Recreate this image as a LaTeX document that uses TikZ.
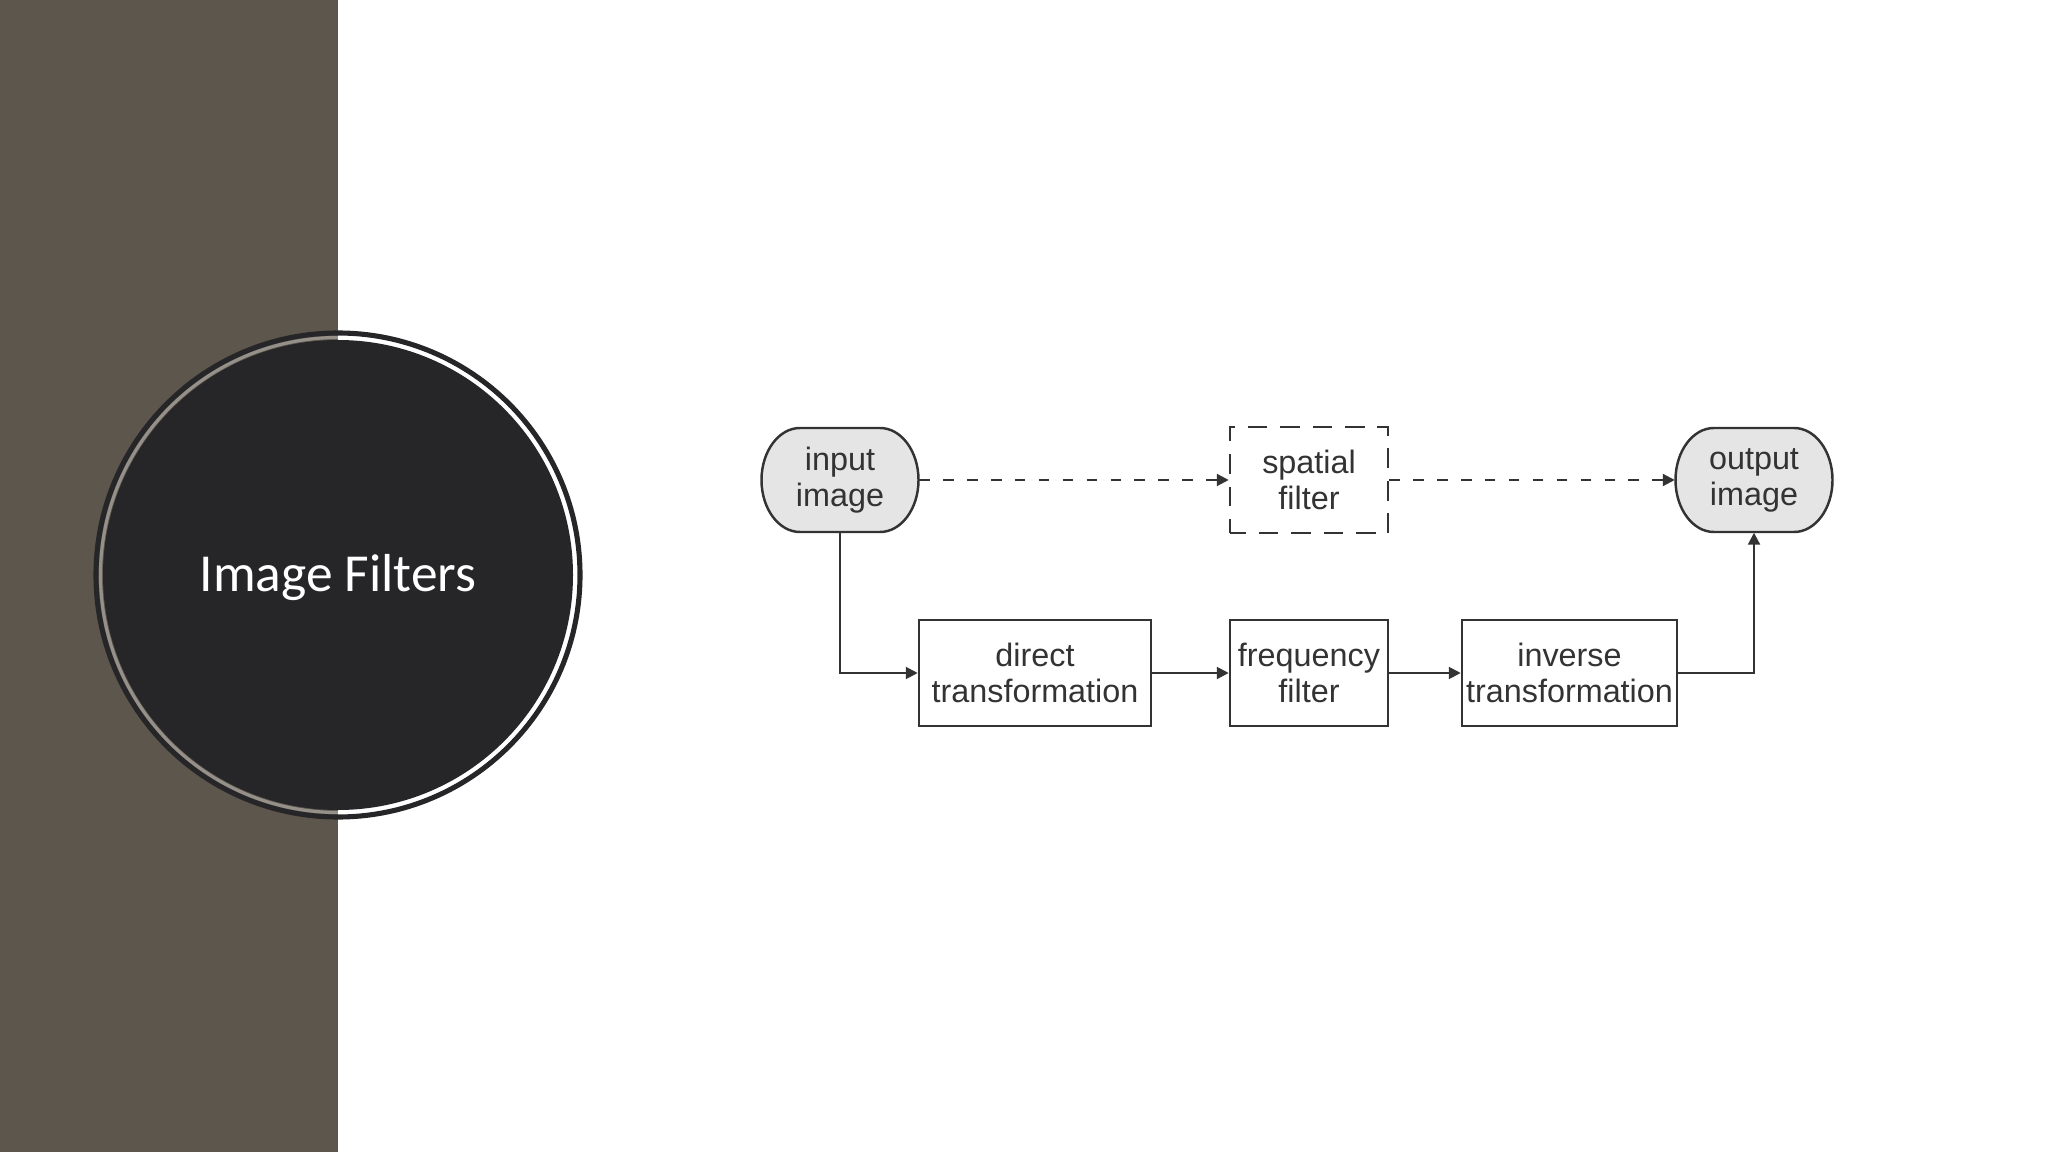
\documentclass[tikz,border=0pt]{standalone}
\usepackage{fontspec}
\setmainfont{Liberation Sans}
\newfontfamily\titlefont{Carlito}
\usetikzlibrary{arrows.meta,calc}
\definecolor{panel}{HTML}{5D564C}
\definecolor{disc}{HTML}{262528}
\definecolor{ink}{HTML}{333333}
\definecolor{nodefill}{HTML}{E5E5E5}
\tikzset{
  nodetext/.style={align=center, text=ink, font=\fontsize{9.2}{10.2}\selectfont, inner sep=0pt},
  term/.style={nodetext, minimum width=1.57cm, minimum height=1.04cm},
  termshape/.style={draw=ink, line width=0.7pt, fill=nodefill},
  procbox/.style={nodetext, draw=ink, line width=0.7pt, fill=white, minimum height=1.06cm},
  dashbox/.style={procbox, dash pattern=on 5.6pt off 3.6pt, dash phase=1pt},
  conn/.style={draw=ink, line width=0.6pt, -{Triangle[length=3.4pt,width=3.4pt]}},
  dconn/.style={conn, dash pattern=on 3pt off 3.8pt}
}
\newcommand{\termoutline}[1]{%
  \path[termshape] ($(#1)+(-40,-52)$) -- ($(#1)+(40,-52)$)
    arc[start angle=-90, end angle=90, x radius=38.5, y radius=52]
    -- ($(#1)+(-40,52)$)
    arc[start angle=90, end angle=270, x radius=38.5, y radius=52] -- cycle;}
\begin{document}
\begin{tikzpicture}[x=0.01cm,y=-0.01cm]
\useasboundingbox (0,0) rectangle (2048,1152);
\fill[white] (0,0) rectangle (2048,1152);
\fill[panel] (0,0) rectangle (338,1152);
% circle
\coordinate (cc) at (338,575);
\draw[disc, line width=1.45pt] (cc) circle (242);
\draw[white, opacity=0.35, line width=0.9pt] (cc) circle (237.5);
\fill[disc] (cc) circle (235);
\node[anchor=base, text=white, font=\titlefont\fontsize{15.2}{18}\selectfont] (title) at (338,591) {Image Filters};
% diagram
\coordinate (inc) at (840,480);
\coordinate (outc) at (1754,480);
\termoutline{inc}
\termoutline{outc}
\node[term] (in) at (inc) {input\\image};
\node[term] (out) at (outc) {output\\image};
\node[dashbox, minimum width=1.58cm] (sp) at (1309,480) {spatial\\filter};
\node[procbox, minimum width=2.32cm] (dt) at (1035,673) {direct\\transformation};
\node[procbox, minimum width=1.58cm] (ff) at (1309,673) {frequency\\filter};
\node[procbox, minimum width=2.15cm] (it) at (1569.5,673) {inverse\\transformation};
\draw[dconn] (in.east) -- (sp.west);
\draw[dconn] (sp.east) -- (out.west);
\draw[conn] (in.south) |- (dt.west);
\draw[conn] (dt.east) -- (ff.west);
\draw[conn] (ff.east) -- (it.west);
\draw[conn] (it.east) -| (out.south);
\end{tikzpicture}
\end{document}
